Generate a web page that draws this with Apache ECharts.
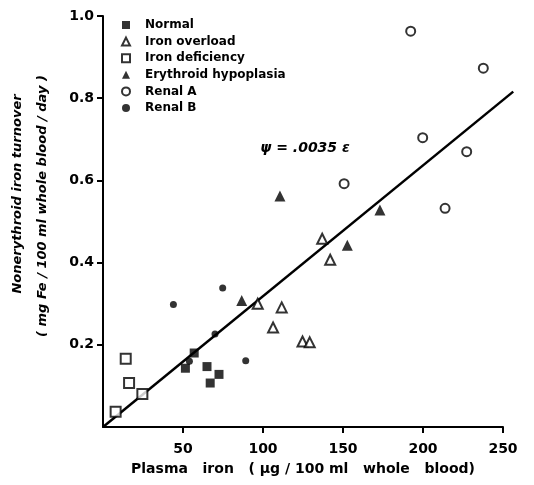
<!DOCTYPE html>
<html>
<head>
<meta charset="utf-8">
<script src="https://cdn.jsdelivr.net/npm/echarts@6/dist/echarts.min.js"></script>
<style>html,body{margin:0;padding:0;background:#fff;}#c{width:534px;height:485px;}</style>
</head>
<body>
<div id="c"></div>
<script>
const xTicks = [50, 100, 150, 200, 250];
const yTicks = [0.2, 0.4, 0.6, 0.8, 1.0];
const normal = [[51.5,0.143],[57,0.18],[65,0.147],[72.5,0.128],[67,0.107]];
const ironOverload = [[96.7,0.30],[111.7,0.291],[106.3,0.242],[124.7,0.208],[129.2,0.206],[137,0.458],[142,0.407]];
const ironDeficiency = [[14.2,0.166],[16.3,0.107],[24.6,0.080],[7.9,0.037]];
const erythroid = [[86.7,0.308],[110.6,0.562],[152.7,0.442],[173.1,0.528]];
const renalA = [[192.3,0.963],[237.7,0.873],[199.8,0.704],[227.3,0.670],[213.8,0.532],[150.7,0.592]];
const renalB = [[44,0.298],[74.8,0.338],[70,0.226],[89.2,0.161],[54,0.16]];
const fitLine = [[0,0],[256.4,0.816]];

const F = 'DejaVu Sans, Verdana, sans-serif';
const chart = echarts.init(document.getElementById('c'), null, {renderer:'canvas'});
const filled = {color:'#000'};
const open = {color:'#fff', borderColor:'#000', borderWidth:2};
chart.setOption({
  animation:false,
  backgroundColor:'#fff',
  grid:{left:103, right:31, top:16, bottom:58, containLabel:false},
  legend:{
    orient:'vertical', left:116, top:13, itemWidth:8, itemHeight:8, itemGap:2.6,
    textStyle:{fontFamily:F, fontSize:12, fontWeight:'bold', color:'#000', lineHeight:14, padding:[0,0,0,10]},
    data:['Normal','Iron overload','Iron deficiency','Erythroid hypoplasia','Renal A','Renal B']
  },
  xAxis:{
    type:'value', min:0, max:250,
    name:'Plasma   iron   ( μg / 100 ml   whole   blood)', nameLocation:'middle', nameGap:35,
    nameTextStyle:{fontFamily:F, fontSize:14, fontWeight:'bold', color:'#000'},
    splitLine:{show:false},
    axisLine:{lineStyle:{color:'#000', width:2}},
    axisTick:{customValues:xTicks, length:6, lineStyle:{color:'#000', width:2}},
    axisLabel:{customValues:xTicks, margin:15, fontFamily:F, fontSize:14, fontWeight:'bold', color:'#000'}
  },
  yAxis:{
    type:'value', min:0, max:1,
    splitLine:{show:false},
    axisLine:{show:true, lineStyle:{color:'#000', width:2}},
    axisTick:{show:true, customValues:yTicks, length:6, lineStyle:{color:'#000', width:2}},
    axisLabel:{customValues:yTicks, margin:9, fontFamily:F, fontSize:14, fontWeight:'bold', color:'#000',
      formatter:v=>v.toFixed(1)}
  },
  graphic:[
    {type:'text', x:18, y:194, rotation:Math.PI/2,
      style:{text:'Nonerythroid iron turnover', fontFamily:F, fontSize:13, fontStyle:'italic', fontWeight:'bold', fill:'#000', align:'center', verticalAlign:'middle'}},
    {type:'text', x:43, y:206, rotation:Math.PI/2,
      style:{text:'( mg Fe / 100 ml whole blood / day )', fontFamily:F, fontSize:13, fontStyle:'italic', fontWeight:'bold', fill:'#000', align:'center', verticalAlign:'middle'}},
    {type:'text', x:305, y:148,
      style:{text:'ψ = .0035 ε', fontFamily:F, fontSize:14, fontStyle:'italic', fontWeight:'bold', fill:'#000', align:'center', verticalAlign:'middle'}}
  ],
  series:[
    {type:'custom', name:'fit', data:[fitLine[0].concat(fitLine[1])], clip:false, silent:true, z:1,
      encode:{x:[0,2], y:[1,3]},
      renderItem:(params, api)=>{
        const p0 = api.coord([api.value(0), api.value(1)]);
        const p1 = api.coord([api.value(2), api.value(3)]);
        return {type:'line', shape:{x1:p0[0], y1:p0[1], x2:p1[0], y2:p1[1]}, style:{stroke:'#000', lineWidth:2.5}};
      }},
    {name:'Normal', type:'scatter', data:normal, symbol:'rect', symbolSize:9, itemStyle:filled, z:3},
    {name:'Iron overload', type:'scatter', data:ironOverload, symbol:'triangle', symbolSize:10, itemStyle:open, z:3},
    {name:'Iron deficiency', type:'scatter', data:ironDeficiency, symbol:'rect', symbolSize:10, itemStyle:open, z:3},
    {name:'Erythroid hypoplasia', type:'scatter', data:erythroid, symbol:'triangle', symbolSize:11, itemStyle:filled, z:3},
    {name:'Renal A', type:'scatter', data:renalA, symbol:'circle', symbolSize:9, itemStyle:open, z:3},
    {name:'Renal B', type:'scatter', data:renalB, symbol:'circle', symbolSize:7, itemStyle:filled, z:3}
  ]
});
</script>
</body>
</html>
